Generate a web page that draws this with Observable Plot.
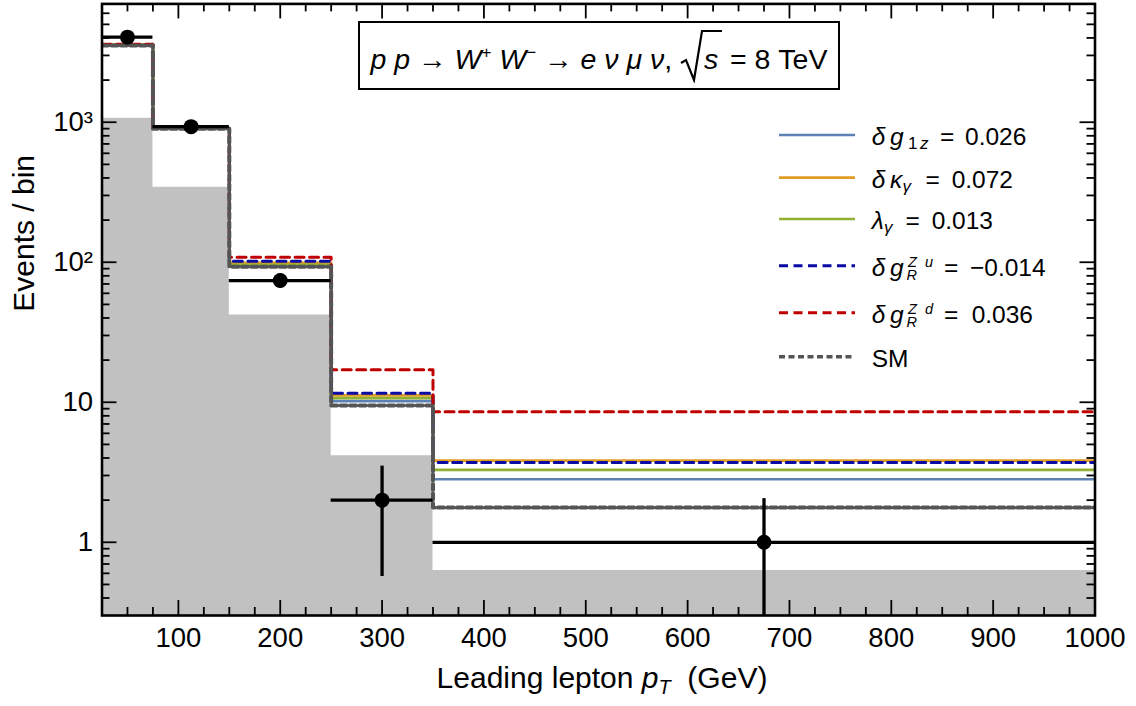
<!DOCTYPE html>
<html>
<head>
<meta charset="utf-8">
<script src="https://cdn.jsdelivr.net/npm/d3@7"></script>
<script src="https://cdn.jsdelivr.net/npm/@observablehq/plot@0.6"></script>
<style>
  html, body { margin: 0; padding: 0; background: #fff; }
  #wrap { position: relative; width: 1136px; height: 706px; font-family: "Liberation Sans", Arial, sans-serif; color: #000; }
  #chart svg { display: block; }
  #title {
    position: absolute; left: 358px; top: 21px; width: 482px; height: 69px;
    box-sizing: border-box; border: 2.6px solid #000; background: #fff;
    display: flex; align-items: center; justify-content: center;
    font-size: 28.5px; white-space: nowrap;
  }
  #title sup { font-size: 17px; vertical-align: 11px; line-height: 0; }
  #title .rad { display: inline-block; vertical-align: -14px; }
  #legend { position: absolute; left: 770px; top: 110px; overflow: visible; }
</style>
</head>
<body>
<div id="wrap">
  <div id="chart"></div>
  <div id="title">
    <span><i>p</i> <i>p</i> → <i>W</i><sup>+</sup> <i>W</i><sup>−</sup> → <i>e</i> <i>ν</i> <i>μ</i> <i>ν</i>,&nbsp;<svg class="rad" width="42" height="54" viewBox="0 0 42 54"><path d="M1,34 L6,31 L14,51 L22,2 L42,2" fill="none" stroke="#000" stroke-width="2.2" stroke-linejoin="miter"/><text x="24" y="40" font-size="28.5" font-style="italic" font-family="Liberation Sans, Arial, sans-serif">s</text></svg> = 8 TeV</span>
  </div>
  <svg id="legend" width="360" height="270"></svg>
</div>
<script>
// Bins of the leading-lepton transverse momentum (GeV)
const binEdges   = [25, 75, 150, 250, 350, 1000];
const binCenters = [50, 112.5, 200, 300, 675];

// Observed events per bin with their error-bar limits
const dataCounts   = [4050, 930, 74, 2, 1];
const dataErrLow   = [3986, 900, 65.4, 0.57, 0];
const dataErrHigh  = [4114, 960, 82.6, 3.5, 2.05];

// Background contribution (grey histogram)
const background = [1068, 343, 42, 4.15, 0.63];

// Predictions per bin
const smPrediction = [3530, 897, 93, 9.5, 1.77];
const dg1z         = [3560, 899, 95, 10.2, 2.82];
const dKappaGamma  = [3590, 903, 99, 11.2, 3.83];
const lambdaGamma  = [3570, 900, 96, 10.7, 3.29];
const dgRZu        = [3575, 902, 101.5, 11.6, 3.71];
const dgRZd        = [3600, 905, 108.5, 17.1, 8.55];

// Axis ticks
const xTicks = [100, 200, 300, 400, 500, 600, 700, 800, 900, 1000];
const yTicks = [1, 10, 100, 1000];
const yTickLabels = ["1", "10", "10²", "10³"];
const xLabel = "Leading lepton pT (GeV)";
const yLabel = "Events / bin";

const xDomain = [25, 1000];
const yDomain = [0.3, 7000];

// minor ticks
const xMinor = d3.range(50, 1000, 25).filter(v => v % 100 !== 0);
const yMinor = [];
for (const dec of [0.1, 1, 10, 100, 1000]) {
  for (let k = 2; k <= 9; k++) {
    const v = +(k * dec).toPrecision(3);
    if (v > yDomain[0] && v < yDomain[1]) yMinor.push(v);
  }
}

// step outline: one point per left edge, plus the final right edge
const steps = vals => binEdges.map((e, i) => ({x: e, y: vals[Math.min(i, vals.length - 1)]}));

const series = [
  {values: dg1z,         stroke: "#5e81b5", width: 2.7, dash: null},
  {values: dKappaGamma,  stroke: "#e19c24", width: 2.7, dash: null},
  {values: lambdaGamma,  stroke: "#8fb032", width: 2.7, dash: null},
  {values: dgRZu,        stroke: "#0a0aa5", width: 3,   dash: "9,5.5"},
  {values: dgRZd,        stroke: "#c00000", width: 3,   dash: "9,5.5"},
  {values: smPrediction, stroke: "#555555", width: 4,   dash: "6,3.5"}
];

const obs = dataCounts.map((v, i) => ({
  x: binCenters[i], x1: binEdges[i], x2: binEdges[i + 1], y: v,
  lo: Math.max(dataErrLow[i], yDomain[0]), hi: dataErrHigh[i]
}));

// plot geometry
const W = 1136, H = 706;
const mL = 101.5, mR = 41.5, mT = 3.4, mB = 91;
const frameW = W - mL - mR, frameH = H - mT - mB;
const major = 15, minor = 8, tickStroke = 1.8;

const chart = Plot.plot({
  width: W,
  height: H,
  marginLeft: mL,
  marginRight: mR,
  marginTop: mT,
  marginBottom: mB,
  x: {domain: xDomain, axis: null},
  y: {type: "log", domain: yDomain, axis: null},
  style: {fontFamily: "Liberation Sans, Arial, sans-serif", fontSize: "27.5px", color: "#000", background: "#fff", overflow: "visible"},
  marks: [
    Plot.areaY(steps(background), {x: "x", y1: yDomain[0], y2: "y", curve: "step-after", fill: "#c1c1c1"}),
    ...series.map(s => Plot.line(steps(s.values), {
      x: "x", y: "y", curve: "step-after", stroke: s.stroke, strokeWidth: s.width,
      strokeDasharray: s.dash, clip: true
    })),
    Plot.ruleY(obs, {y: "y", x1: "x1", x2: "x2", stroke: "#000", strokeWidth: 3.3, clip: true}),
    Plot.ruleX(obs, {x: "x", y1: "lo", y2: "hi", stroke: "#000", strokeWidth: 3.3, clip: true}),
    Plot.dot(obs, {x: "x", y: "y", r: 7.5, fill: "#000", stroke: null}),
    // inward ticks on all four sides of the frame
    Plot.ruleX(xTicks, {x: d => d, insetTop: frameH - major, stroke: "#000", strokeWidth: tickStroke}),
    Plot.ruleX(xMinor, {x: d => d, insetTop: frameH - minor, stroke: "#000", strokeWidth: tickStroke}),
    Plot.ruleX(xTicks, {x: d => d, insetBottom: frameH - major, stroke: "#000", strokeWidth: tickStroke}),
    Plot.ruleX(xMinor, {x: d => d, insetBottom: frameH - minor, stroke: "#000", strokeWidth: tickStroke}),
    Plot.ruleY(yTicks, {y: d => d, insetRight: frameW - major, stroke: "#000", strokeWidth: tickStroke}),
    Plot.ruleY(yMinor, {y: d => d, insetRight: frameW - minor, stroke: "#000", strokeWidth: tickStroke}),
    Plot.ruleY(yTicks, {y: d => d, insetLeft: frameW - major, stroke: "#000", strokeWidth: tickStroke}),
    Plot.ruleY(yMinor, {y: d => d, insetLeft: frameW - minor, stroke: "#000", strokeWidth: tickStroke}),
    // tick labels
    Plot.axisX({anchor: "bottom", ticks: xTicks, tickSize: 0, tickPadding: 12, tickFormat: d => String(d), label: null}),
    Plot.axisY({anchor: "left", ticks: yTicks, tickSize: 0, tickPadding: 9, tickFormat: d => yTickLabels[yTicks.indexOf(d)], label: null}),
    Plot.frame({stroke: "#000", strokeWidth: 2.6}),
    // axis titles
    Plot.text([xLabel], {frameAnchor: "bottom", dx: 3.5, dy: 72, fontSize: 30}),
    Plot.text([yLabel], {frameAnchor: "left", dx: -78, dy: 2, rotate: -90, fontSize: 30})
  ]
});

document.getElementById("chart").appendChild(chart);

// italic p with subscript T in the x-axis title
d3.select(chart).selectAll("text").filter(function() { return this.textContent === xLabel; }).each(function() {
  const t = d3.select(this).text(null).style("white-space", "pre");
  t.append("tspan").text("Leading lepton ");
  t.append("tspan").attr("font-style", "italic").text("p");
  t.append("tspan").attr("font-style", "italic").attr("font-size", 20).attr("dy", 6).text("T");
  t.append("tspan").attr("dy", -6).text("  (GeV)");
});

// legend: line sample plus formatted label; each piece is [text, x, offset from baseline, size, italic]
const legendRows = [
  {stroke: "#5e81b5", width: 2.7, dash: null, pieces: [
    ["δ", 101.7, 0, 24.5, true], ["g", 120, 0, 24.5, true], ["1", 138, 4, 17, false], ["z", 150, 4, 17, true],
    ["=", 170, 0, 24.5, false], ["0.026", 195, 0, 24.5, false]]},
  {stroke: "#e19c24", width: 2.7, dash: null, pieces: [
    ["δ", 101.7, 0, 24.5, true], ["κ", 120, 0, 24.5, true], ["γ", 132.5, 4, 17, true],
    ["=", 155.5, 0, 24.5, false], ["0.072", 181.7, 0, 24.5, false]]},
  {stroke: "#8fb032", width: 2.7, dash: null, pieces: [
    ["λ", 101.7, 0, 24.5, true], ["γ", 114, 4, 17, true],
    ["=", 135.5, 0, 24.5, false], ["0.013", 161.7, 0, 24.5, false]]},
  {stroke: "#0a0aa5", width: 3, dash: "9,5.5", pieces: [
    ["δ", 101.7, 0, 24.5, true], ["g", 120, 0, 24.5, true], ["R", 136.5, 4.3, 14.5, true],
    ["Z", 138, -9, 14.5, true], ["u", 155, -9, 14.5, true],
    ["=", 174, 0, 24.5, false], ["−0.014", 200, 0, 24.5, false]]},
  {stroke: "#c00000", width: 3, dash: "9,5.5", pieces: [
    ["δ", 101.7, 0, 24.5, true], ["g", 120, 0, 24.5, true], ["R", 136.5, 4.3, 14.5, true],
    ["Z", 138, -9, 14.5, true], ["d", 155, -9, 14.5, true],
    ["=", 174, 0, 24.5, false], ["0.036", 201.7, 0, 24.5, false]]},
  {stroke: "#555555", width: 3.5, dash: "6,3.5", pieces: [["SM", 101.7, 0, 24.5, false]]}
];
const rowY = [25, 67.7, 109, 155.7, 202.7, 246.7];
const leg = d3.select("#legend");
legendRows.forEach((r, i) => {
  leg.append("line").attr("x1", 9).attr("x2", 85).attr("y1", rowY[i]).attr("y2", rowY[i])
    .attr("stroke", r.stroke).attr("stroke-width", r.width).attr("stroke-dasharray", r.dash);
  const base = rowY[i] + 10;
  const t = leg.append("text").attr("font-family", "Liberation Sans, Arial, sans-serif");
  for (const [s, x, dy, size, it] of r.pieces) {
    t.append("tspan").attr("x", x).attr("y", base + dy).attr("font-size", size)
      .attr("font-style", it ? "italic" : null).text(s);
  }
});
</script>
</body>
</html>
